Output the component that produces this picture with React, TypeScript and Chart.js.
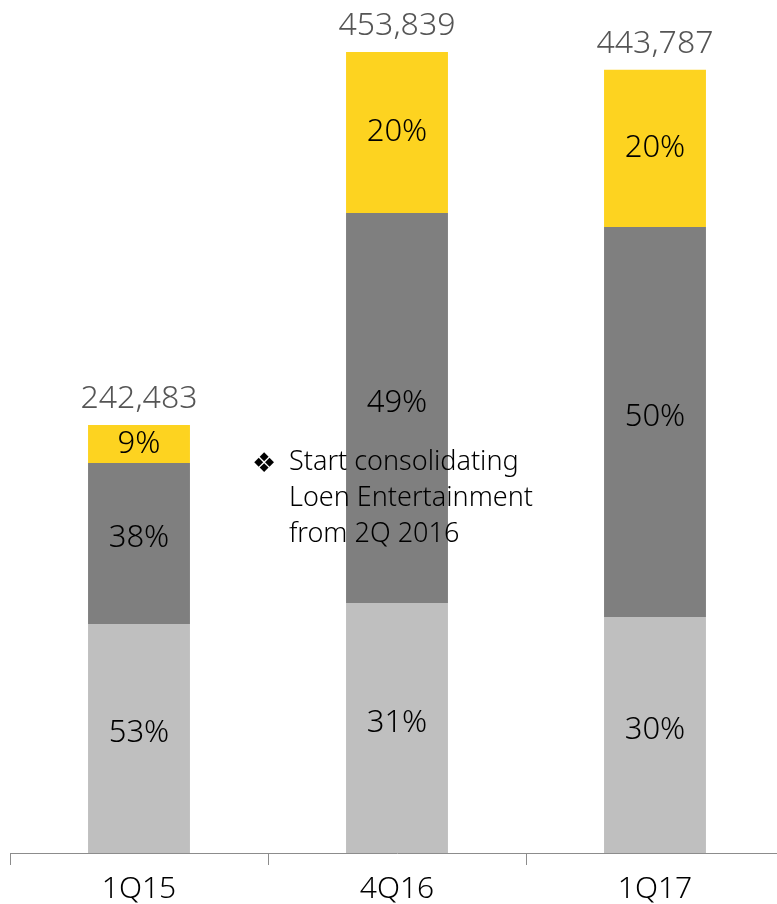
import React, { useEffect, useRef } from "react";
import { Chart, registerables } from "chart.js";

Chart.register(...registerables);

const categories = ["1Q15", "4Q16", "1Q17"];
const lightValues = [129700, 141600, 133700];
const darkValues = [91200, 221000, 221000];
const yellowValues = [21583, 91239, 89087];
const totalLabels = ["242,483", "453,839", "443,787"];
const lightPct = ["53%", "31%", "30%"];
const darkPct = ["38%", "49%", "50%"];
const yellowPct = ["9%", "20%", "20%"];
const noteLines = ["Start consolidating", "Loen Entertainment", "from 2Q 2016"];
const yMax = 483300;

const FONT = "'Noto Sans', 'DejaVu Sans', sans-serif";

const labelPlugin = {
  id: "labels",
  afterDatasetsDraw(chart: any) {
    const ctx = chart.ctx;
    ctx.save();
    const pctSets = [lightPct, darkPct, yellowPct];
    ctx.textAlign = "center";
    ctx.textBaseline = "middle";
    ctx.fillStyle = "#000000";
    ctx.font = `300 31px ${FONT}`;
    pctSets.forEach((arr, di) => {
      const meta = chart.getDatasetMeta(di);
      meta.data.forEach((bar: any, i: number) => {
        const { y, base } = bar.getProps(["y", "base"], true);
        const shift = di === 2 ? 0 : -5;
        ctx.fillText(arr[i], bar.x, (y + base) / 2 + shift);
      });
    });
    // totals
    const topMeta = chart.getDatasetMeta(2);
    ctx.fillStyle = "#555555";
    ctx.font = `300 32px ${FONT}`;
    ctx.textBaseline = "alphabetic";
    topMeta.data.forEach((bar: any, i: number) => {
      ctx.fillText(totalLabels[i], bar.x, bar.y - 17);
    });
    // annotation
    ctx.textAlign = "left";
    ctx.fillStyle = "#000000";
    ctx.font = `27px 'DejaVu Sans', sans-serif`;
    ctx.fillText("\u2756", 252, 472);
    ctx.font = `300 27px ${FONT}`;
    noteLines.forEach((line, i) => {
      ctx.fillText(line, 289, 470 + i * 36);
    });
    ctx.restore();
  },
};

export default function App() {
  const ref = useRef<HTMLCanvasElement>(null);
  useEffect(() => {
    if (!ref.current) return;
    const chart = new Chart(ref.current, {
      type: "bar",
      data: {
        labels: categories,
        datasets: [
          { data: lightValues, backgroundColor: "#bfbfbf" },
          { data: darkValues, backgroundColor: "#7f7f7f" },
          { data: yellowValues, backgroundColor: "#fdd320" },
        ],
      },
      options: {
        responsive: false,
        animation: false,
        layout: { padding: { left: 10, right: 16, top: 0, bottom: 0 } },
        plugins: { legend: { display: false }, tooltip: { enabled: false } },
        datasets: { bar: { barPercentage: 0.395, categoryPercentage: 1 } },
        scales: {
          x: {
            stacked: true,
            border: { display: true, color: "#8c8c8c", width: 1 },
            grid: {
              display: true,
              drawOnChartArea: false,
              drawTicks: true,
              tickLength: 12,
              color: "#8c8c8c",
            },
            ticks: { color: "#000000", font: { family: FONT, size: 30, weight: 300 }, padding: 6 },
            afterFit: (scale: any) => {
              scale.height = 51;
            },
          },
          y: { stacked: true, display: false, min: 0, max: yMax },
        },
      },
      plugins: [labelPlugin],
    } as any);
    return () => chart.destroy();
  }, []);
  return (
    <div style={{ position: "fixed", left: 0, top: 0, width: 777, height: 904, overflow: "hidden", background: "#fff" }}>
      <canvas ref={ref} width={800} height={904} style={{ display: "block" }} />
    </div>
  );
}
